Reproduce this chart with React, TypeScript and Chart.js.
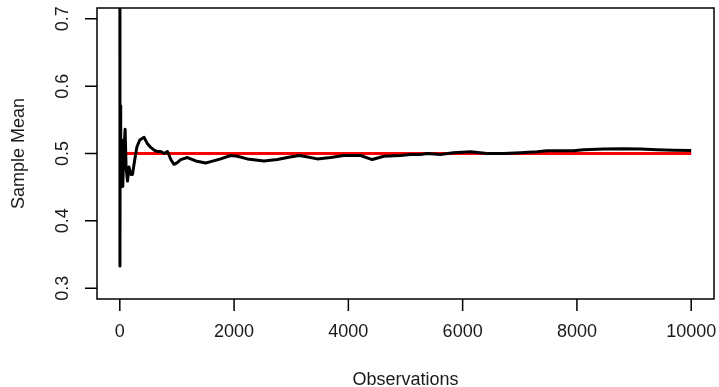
import React, { useEffect, useRef } from 'react';
import { Chart, registerables } from 'chart.js';

Chart.register(...registerables);

const observations = [
  1, 2, 3, 7, 12, 20, 35, 52, 70, 93, 110, 135, 160, 192, 222, 260, 300, 350, 425, 480,
  542, 600, 650, 717, 780, 834, 900, 949, 1000, 1066, 1183, 1329, 1503, 1591, 1766, 1941,
  2057, 2232, 2523, 2757, 2932, 3135, 3222, 3456, 3689, 3921, 4213, 4418, 4621, 4913, 5087,
  5262, 5379, 5612, 5839, 6136, 6428, 6719, 7010, 7302, 7477, 7710, 7937, 8117, 8467, 8816,
  9108, 9400, 9690, 10000,
];
const sampleMeans = [
  1.0, 0.5, 0.333, 0.571, 0.5, 0.45, 0.52, 0.451, 0.5, 0.536, 0.48, 0.459, 0.48, 0.469, 0.469,
  0.49, 0.51, 0.52, 0.524, 0.515, 0.509, 0.505, 0.503, 0.503, 0.5, 0.503, 0.49, 0.484, 0.486,
  0.491, 0.494, 0.489, 0.486, 0.488, 0.492, 0.497, 0.496, 0.492, 0.489, 0.491, 0.494, 0.497,
  0.496, 0.492, 0.494, 0.497, 0.497, 0.491, 0.496, 0.497, 0.4985, 0.4985, 0.5, 0.4985, 0.501,
  0.5025, 0.5, 0.5, 0.501, 0.5025, 0.504, 0.504, 0.504, 0.5055, 0.5065, 0.507, 0.5065, 0.5055,
  0.505, 0.5045,
];
const targetX = [1, 10000];
const targetMean = [0.5, 0.5];

const xTicks = [0, 2000, 4000, 6000, 8000, 10000];
const yTicks = [0.3, 0.4, 0.5, 0.6, 0.7];
const xLabel = 'Observations';
const yLabel = 'Sample Mean';

const FONT = '18px "Liberation Sans", Arial, Helvetica, sans-serif';

const rAxesPlugin = {
  id: 'rAxes',
  afterDraw(chart: any) {
    const { ctx, chartArea, scales } = chart;
    const { left, right, top, bottom } = chartArea;
    const xs = scales.x;
    const ys = scales.y;
    ctx.save();
    ctx.strokeStyle = '#000';
    ctx.lineWidth = 1.5;
    ctx.strokeRect(left, top, right - left, bottom - top);
    ctx.beginPath();
    xTicks.forEach((v) => {
      const px = xs.getPixelForValue(v);
      ctx.moveTo(px, bottom);
      ctx.lineTo(px, bottom + 12);
    });
    yTicks.forEach((v) => {
      const py = ys.getPixelForValue(v);
      ctx.moveTo(left, py);
      ctx.lineTo(left - 12, py);
    });
    ctx.stroke();

    ctx.fillStyle = '#1a1a1a';
    ctx.font = FONT;
    ctx.textAlign = 'center';
    ctx.textBaseline = 'middle';
    xTicks.forEach((v) => {
      ctx.fillText(String(v), xs.getPixelForValue(v), bottom + 33);
    });
    yTicks.forEach((v) => {
      ctx.save();
      ctx.translate(left - 34, ys.getPixelForValue(v));
      ctx.rotate(-Math.PI / 2);
      ctx.fillText(v.toFixed(1), 0, 0);
      ctx.restore();
    });
    ctx.fillText(xLabel, (left + right) / 2, bottom + 81);
    ctx.save();
    ctx.translate(left - 78, (top + bottom) / 2);
    ctx.rotate(-Math.PI / 2);
    ctx.fillText(yLabel, 0, 0);
    ctx.restore();
    ctx.restore();
  },
};

export default function App() {
  const ref = useRef<HTMLCanvasElement | null>(null);
  useEffect(() => {
    if (!ref.current) return;
    const chart = new Chart(ref.current, {
      type: 'line',
      data: {
        datasets: [
          {
            label: 'mean',
            data: observations.map((x, i) => ({ x, y: sampleMeans[i] })),
            borderColor: '#000000',
            borderWidth: 3,
            pointRadius: 0,
            tension: 0,
            borderJoinStyle: 'round',
            clip: 0,
          },
          {
            label: 'target',
            data: targetX.map((x, i) => ({ x, y: targetMean[i] })),
            borderColor: '#ff0000',
            borderWidth: 3,
            pointRadius: 0,
            tension: 0,
            clip: 0,
          },
        ],
      },
      options: {
        animation: false,
        responsive: false,
        layout: { padding: { left: 97, top: 8, right: 5, bottom: 88 } },
        plugins: { legend: { display: false }, tooltip: { enabled: false } },
        scales: {
          x: { type: 'linear', display: false, min: -399, max: 10399 },
          y: { type: 'linear', display: false, min: 0.284, max: 0.716 },
        },
      } as any,
      plugins: [rAxesPlugin],
    });
    return () => chart.destroy();
  }, []);
  return (
    <div style={{ position: 'absolute', left: 0, top: 0, width: 719, height: 387, background: '#fff' }}>
      <canvas ref={ref} width={719} height={387} />
    </div>
  );
}
